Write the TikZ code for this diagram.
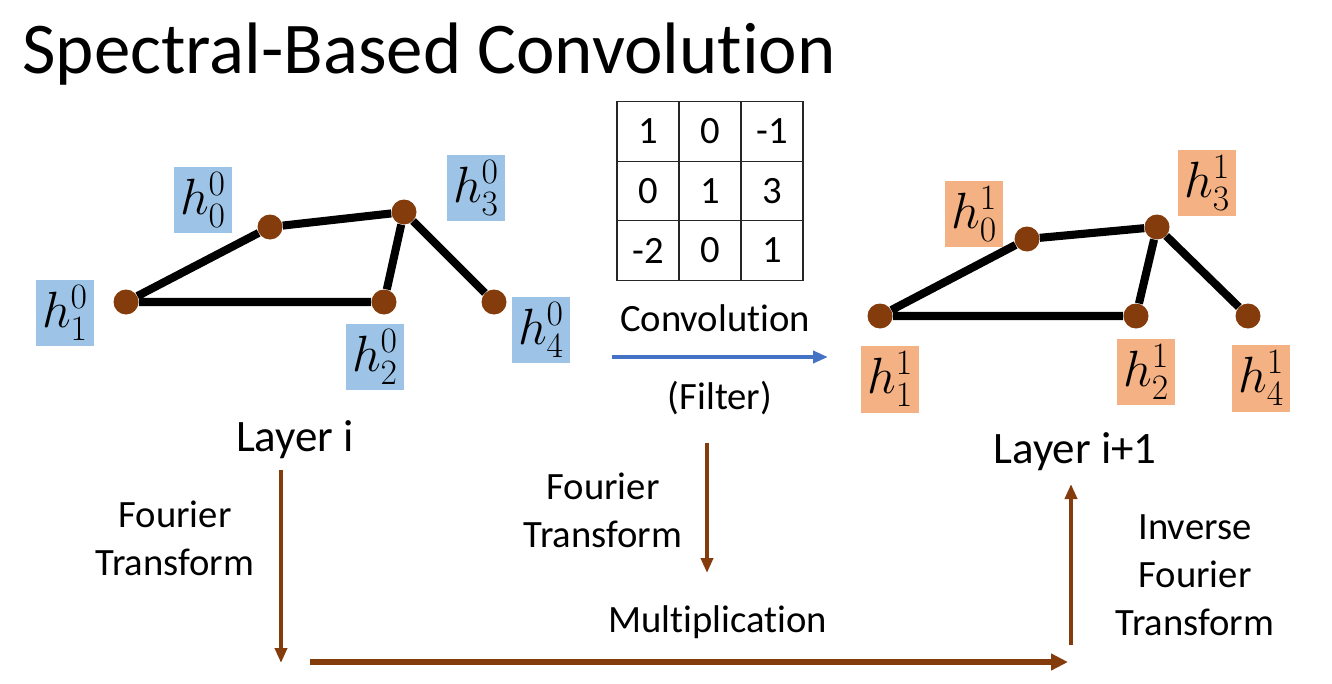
\documentclass[tikz,border=0pt]{standalone}
\usepackage{fix-cm}
\usepackage{fontspec}
\setmainfont[Ligatures=NoCommon]{Carlito}
\usetikzlibrary{arrows.meta,positioning}
\definecolor{nbrown}{RGB}{132,60,12}
\definecolor{lblue}{RGB}{157,195,230}
\definecolor{lorange}{RGB}{244,177,131}
\definecolor{cblue}{RGB}{68,114,196}
\tikzset{
  nd/.style={circle,fill=nbrown,minimum size=0.5cm,inner sep=0pt},
  lnk/.style={draw=black,line width=4.6pt},
  hb/.style={fill=lblue,minimum width=1.16cm,minimum height=1.34cm,inner sep=0pt,font=\fontsize{29}{32}\selectfont},
  ho/.style={hb,fill=lorange},
  cell/.style={draw=black!85,line width=0.8pt,minimum width=1.24cm,minimum height=1.19cm,inner sep=0pt,font=\fontsize{22}{27}\selectfont},
  lb/.style={font=\fontsize{22}{27.3}\selectfont,align=center},
  ly/.style={font=\fontsize{25.6}{30}\selectfont},
  ttl/.style={font=\fontsize{41.5}{48}\selectfont},
  % the brown arrows of the Fourier path, and the blue one for the filter
  ft/.style={-{Triangle[length=3mm,width=2.4mm]},draw=nbrown,line width=2.1pt},
  ftb/.style={-{Triangle[length=3.4mm,width=3.2mm]},draw=nbrown,line width=3.6pt},
  cv/.style={-{Triangle[length=3mm,width=2.4mm]},draw=cblue,line width=2.1pt},
}
\begin{document}
\begin{tikzpicture}[x=0.02cm,y=-0.02cm]
\useasboundingbox (0,0) rectangle (1332,683);
\node[ttl,anchor=base west,inner sep=0pt] (T) at (22,73) {Spectral-Based Convolution};
% layer i
\node[nd] (a1) at (126,302) {}; \node[nd] (a0) at (270,227) {};
\node[nd] (a3) at (404,212) {}; \node[nd] (a2) at (384,302) {};
\node[nd] (a4) at (494,302) {};
\draw[lnk] (a1)--(a0) (a0)--(a3) (a1)--(a2) (a2)--(a3) (a3)--(a4);
\node[hb] (ha0) at (203,200) {$h_0^0$}; \node[hb] (ha3) at (476,188) {$h_3^0$};
\node[hb] (ha1) at (65,313) {$h_1^0$}; \node[hb] (ha2) at (375,357) {$h_2^0$};
\node[hb] (ha4) at (541,330) {$h_4^0$};
\node[ly] (La) at (295,440) {Layer i};
% the filter
\foreach \v [count=\i from 0] in {1,0,-1,0,1,3,-2,0,1}{
  \pgfmathtruncatemacro{\cc}{mod(\i,3)}
  \pgfmathtruncatemacro{\rr}{div(\i,3)}
  \node[cell] (c\i) at (648+62*\cc,131.5+59.5*\rr) {\v};
}
\node[lb] (cvt) at (715,318) {Convolution};
\node[lb] (flt) at (720,398) {(Filter)};
\coordinate (cs) at (612,357); \coordinate (ce) at (828,357);
\draw[cv] (cs) -- (ce);
% layer i+1
\node[nd] (b1) at (880,316) {}; \node[nd] (b0) at (1027,239) {};
\node[nd] (b3) at (1157,227) {}; \node[nd] (b2) at (1136,316) {};
\node[nd] (b4) at (1248,316) {};
\draw[lnk] (b1)--(b0) (b0)--(b3) (b1)--(b2) (b2)--(b3) (b3)--(b4);
\node[ho] (hb0) at (974,214) {$h_0^1$}; \node[ho] (hb3) at (1207,183) {$h_3^1$};
\node[ho] (hb1) at (890,379) {$h_1^1$}; \node[ho] (hb2) at (1146,372) {$h_2^1$};
\node[ho] (hb4) at (1261,378) {$h_4^1$};
\node[ly] (Lb) at (1075,452) {Layer i+1};
% the way round through the spectrum
\coordinate (f1s) at (281,470); \coordinate (f1e) at (281,663);
\draw[ft] (f1s) -- (f1e);
\node[lb] (ft1) at (175,538) {Fourier\\Transform};
\coordinate (f2s) at (707,443); \coordinate (f2e) at (707,573);
\draw[ft] (f2s) -- (f2e);
\node[lb] (ft2) at (603,510) {Fourier\\Transform};
\node[lb] (mul) at (718,622) {Multiplication};
\coordinate (ms) at (310,662); \coordinate (me) at (1068,662);
\draw[ftb] (ms) -- (me);
\coordinate (is) at (1071,645); \coordinate (ie) at (1071,484);
\draw[ft] (is) -- (ie);
\node[lb] (ift) at (1195,575) {Inverse\\Fourier\\Transform};
\end{tikzpicture}
\end{document}
